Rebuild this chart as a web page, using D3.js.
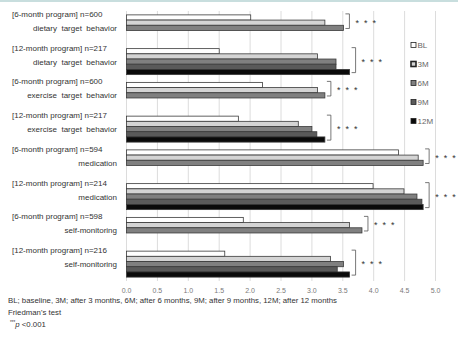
<!DOCTYPE html>
<html>
<head>
<meta charset="utf-8">
<script src="https://cdn.jsdelivr.net/npm/d3@7"></script>
<style>
  body { margin: 0; background: #fff; }
  text { font-family: "Liberation Sans", Arial, sans-serif; }
</style>
</head>
<body>
<div id="chart"></div>
<script>
// Data
const programLabels = [
  "[6-month program] n=600",
  "[12-month program] n=217",
  "[6-month program] n=600",
  "[12-month program] n=217",
  "[6-month program] n=594",
  "[12-month program] n=214",
  "[6-month program] n=598",
  "[12-month program] n=216"
]
const behaviorLabels = [
  "dietary  target  behavior",
  "dietary  target  behavior",
  "exercise  target  behavior",
  "exercise  target  behavior",
  "medication",
  "medication",
  "self-monitoring",
  "self-monitoring"
]
const seriesNames = ["BL", "3M", "6M", "9M", "12M"]
const valuesBL = [2.01, 1.50, 2.20, 1.81, 4.40, 3.99, 1.89, 1.59]
const values3M = [3.21, 3.09, 3.09, 2.78, 4.72, 4.49, 3.61, 3.30]
const values6M = [3.51, 3.39, 3.21, 3.00, 4.80, 4.70, 3.81, 3.51]
const values9M = [null, 3.39, null, 3.08, null, 4.78, null, 3.41]
const values12M = [null, 3.61, null, 3.21, null, 4.80, null, 3.61]
const xTicks = [0, 0.5, 1, 1.5, 2, 2.5, 3, 3.5, 4, 4.5, 5]
const footnotes = [
  "BL; baseline, 3M; after 3 months, 6M; after 6 months, 9M; after 9 months, 12M; after 12 months",
  "Friedman's test"
]

const seriesValues = [valuesBL, values3M, values6M, values9M, values12M]
const seriesColors = ["#ffffff", "#d4d4d4", "#808080", "#5a5a5a", "#0a0a0a"]

const svgWidth = 458
const svgHeight = 337

let svg = d3.select("#chart")
  .append("svg")
  .attr("width", svgWidth)
  .attr("height", svgHeight)

// thin frame line on top
svg.append("rect")
  .attr("x", 0).attr("y", 0)
  .attr("width", svgWidth).attr("height", 2)
  .attr("fill", "#c8dede")

let x = d3.scaleLinear().domain([0, 5]).range([126.5, 435.5])
let y = d3.scaleBand()
  .domain(d3.range(programLabels.length))
  .range([11, 281])
  .paddingInner(0.23)
  .paddingOuter(0.115)
let ySub = d3.scaleBand()
  .domain(d3.range(seriesNames.length))
  .range([0, y.bandwidth()])

// gridlines
svg.append("g")
  .selectAll("line")
  .data(xTicks)
  .enter()
  .append("line")
  .attr("x1", d => x(d)).attr("x2", d => x(d))
  .attr("y1", 11).attr("y2", 281)
  .attr("stroke", "#dcdcdc")
  .attr("stroke-width", 1)

// tick labels
svg.append("g")
  .selectAll("text")
  .data(xTicks)
  .enter()
  .append("text")
  .attr("x", d => x(d))
  .attr("y", 293)
  .attr("text-anchor", "middle")
  .attr("font-size", 7)
  .attr("fill", "#7a7a7a")
  .text(d => d.toFixed(1))

// bars
let barGroups = svg.append("g")
  .selectAll("g")
  .data(seriesNames)
  .enter()
  .append("g")

barGroups.each(function(name, si) {
  d3.select(this)
    .selectAll("rect")
    .data(seriesValues[si].map((v, ci) => ({ v: v, ci: ci })).filter(d => d.v !== null))
    .enter()
    .append("rect")
    .attr("x", x(0))
    .attr("y", d => y(d.ci) + ySub(si))
    .attr("width", d => x(d.v) - x(0))
    .attr("height", ySub.bandwidth())
    .attr("fill", seriesColors[si])
    .attr("stroke", "#3a3a3a")
    .attr("stroke-width", 0.8)
})

// category labels
let labels = svg.append("g")
  .selectAll("g")
  .data(programLabels)
  .enter()
  .append("g")

labels.append("text")
  .attr("x", 12)
  .attr("y", (d, i) => y(i) + 2)
  .attr("font-size", 8)
  .attr("fill", "#333")
  .text(d => d)

labels.append("text")
  .attr("x", 117)
  .attr("y", (d, i) => y(i) + 16)
  .attr("text-anchor", "end")
  .attr("font-size", 8)
  .attr("fill", "#333")
  .style("white-space", "pre")
  .text((d, i) => behaviorLabels[i])

// significance brackets
programLabels.forEach((d, ci) => {
  let vals = seriesValues.map(s => s[ci]).filter(v => v !== null)
  let bx = x(d3.max(vals)) + 6
  let top = y(ci) + ySub(0) - 1
  let bottom = y(ci) + ySub(vals.length - 1) + ySub.bandwidth() - 2
  svg.append("path")
    .attr("d", `M${bx - 4},${top} H${bx} V${bottom} H${bx - 4}`)
    .attr("fill", "none")
    .attr("stroke", "#555")
    .attr("stroke-width", 0.8)
  svg.append("text")
    .attr("x", bx + 6)
    .attr("y", (top + bottom) / 2 + 4.5)
    .attr("font-size", 9)
    .attr("fill", "#333")
    .style("white-space", "pre")
    .text("*  *  *")
})

// legend
let legend = svg.append("g")
  .selectAll("g")
  .data(seriesNames)
  .enter()
  .append("g")
  .attr("transform", (d, i) => `translate(411, ${45 + i * 19})`)

legend.append("rect")
  .attr("x", 0).attr("y", -2.5)
  .attr("width", 5).attr("height", 5)
  .attr("fill", (d, i) => seriesColors[i])
  .attr("stroke", "#222")
  .attr("stroke-width", (d, i) => i === 1 ? 1.6 : 0.8)

legend.append("text")
  .attr("x", 6.5)
  .attr("y", 2.8)
  .attr("font-size", 8)
  .attr("fill", "#666")
  .text(d => d)

// footnotes
svg.append("g")
  .selectAll("text")
  .data(footnotes)
  .enter()
  .append("text")
  .attr("x", 8)
  .attr("y", (d, i) => 302.5 + i * 12)
  .attr("font-size", 7.8)
  .attr("fill", "#333")
  .text(d => d)

let pNote = svg.append("text")
  .attr("x", 10)
  .attr("y", 327)
  .attr("font-size", 7.8)
  .attr("fill", "#333")
pNote.append("tspan").attr("font-size", 4.5).attr("dy", -3).text("***")
pNote.append("tspan").attr("font-style", "italic").attr("dy", 3).text("p")
pNote.append("tspan").text(" <0.001")
</script>
</body>
</html>
